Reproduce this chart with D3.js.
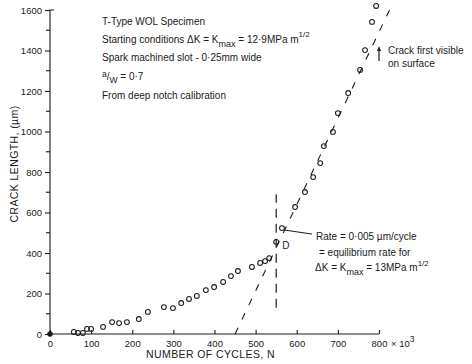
<!DOCTYPE html>
<html><head><meta charset="utf-8">
<script src="https://cdn.jsdelivr.net/npm/d3@7"></script>
<style>
body{margin:0;background:#fff}
svg{display:block}
text{font-family:"Liberation Sans",Arial,sans-serif;fill:#1a1a1a}
</style>
</head><body>
<svg id="c" width="472" height="364"></svg>
<script>
// ---- data ----
const cycles = [0, 58, 68, 80, 90, 100, 129, 151, 168, 187, 216, 238, 277, 299, 319, 338, 357, 379, 399, 421, 440, 457, 491, 511, 523, 533, 550, 564, 596, 620, 640, 657, 666, 688, 700, 725, 754, 766, 783, 793];
const crackLength = [0, 10, 5, 5, 25, 25, 35, 59, 54, 59, 74, 109, 133, 128, 153, 173, 188, 217, 232, 257, 286, 311, 331, 351, 360, 375, 455, 523, 627, 701, 775, 844, 928, 998, 1091, 1190, 1304, 1402, 1541, 1620];
const fitCycles = [450, 835];
const fitCrack = [0, 1640];
const limitCycles = [550, 550];
const limitCrack = [130, 690];
const xTicks = [0, 100, 200, 300, 400, 500, 600, 700, 800];
const yTicks = [0, 200, 400, 600, 800, 1000, 1200, 1400, 1600];
const yMinorTicks = [100, 300, 500, 700, 900, 1100, 1300, 1500];
const xTitle = "NUMBER OF CYCLES, N";
const yTitle = "CRACK LENGTH, (µm)";
const dPointIndex = 26;
const ratePointIndex = 27;
const visiblePointIndex = 37;

const svg = d3.select("#c");
const x = d3.scaleLinear().domain([0, 800]).range([50, 379]);
const y = d3.scaleLinear().domain([0, 1600]).range([334, 10]);
const ink = "#1a1a1a";
const fmt = d3.format("d");

// axes
const xAxis = d3.axisBottom(x).tickValues(xTicks).tickSize(-4).tickPadding(6).tickFormat(fmt);
const gx = svg.append("g").attr("transform", `translate(0,${y(0)})`).call(xAxis);
gx.select(".domain").attr("d", `M${x(0)},0H${x(800)}`).attr("stroke", ink).attr("stroke-width", 1.1);
gx.selectAll(".tick line").attr("stroke", ink).attr("stroke-width", 1.1);
gx.selectAll(".tick text").attr("font-size", 9.5).attr("fill", ink).attr("font-family", "Liberation Sans, Arial, sans-serif");

const yAxis = d3.axisLeft(y).tickValues(yTicks).tickSize(5).tickPadding(3).tickFormat(fmt);
const gy = svg.append("g").attr("transform", `translate(${x(0)},0)`).call(yAxis);
gy.select(".domain").attr("d", `M0,${y(0)}V${y(1600)}H4`).attr("stroke", ink).attr("stroke-width", 1.1).attr("fill", "none");
gy.selectAll(".tick line").attr("stroke", ink).attr("stroke-width", 1.1);
gy.selectAll(".tick text").attr("font-size", 9.5).attr("fill", ink).attr("font-family", "Liberation Sans, Arial, sans-serif");
gy.selectAll(".minor").data(yMinorTicks).enter().append("line")
  .attr("x1", -4).attr("x2", 0).attr("y1", d => y(d)).attr("y2", d => y(d))
  .attr("stroke", ink).attr("stroke-width", 1.1);

// x10^3
const mult = svg.append("text").attr("x", x(800) + 12).attr("y", y(0) + 13).attr("font-size", 9.5);
mult.append("tspan").text("× 10");
mult.append("tspan").attr("dy", -5).attr("font-size", 8.5).text("3");

// titles
svg.append("text").attr("x", (x(0) + x(800)) / 2 - 4).attr("y", 358).attr("text-anchor", "middle")
  .attr("font-size", 10.5).attr("letter-spacing", 0.4).text(xTitle);
svg.append("text").attr("transform", `translate(18,${(y(0)+y(1600))/2 - 8}) rotate(-90)`).attr("text-anchor", "middle")
  .attr("font-size", 10.5).attr("letter-spacing", 0.4).text(yTitle);

// dashed lines
const line = d3.line().x(d => x(d[0])).y(d => y(d[1]));
svg.append("path").datum(d3.zip(fitCycles, fitCrack)).attr("d", line)
  .attr("fill", "none").attr("stroke", ink).attr("stroke-width", 1.1).attr("stroke-dasharray", "7,9");
svg.append("path").datum(d3.zip(limitCycles, limitCrack)).attr("d", line)
  .attr("fill", "none").attr("stroke", ink).attr("stroke-width", 1.2).attr("stroke-dasharray", "9,6");

// points
const pts = d3.zip(cycles, crackLength);
svg.selectAll("circle.pt").data(pts).enter().append("circle")
  .attr("class", "pt").attr("cx", d => x(d[0])).attr("cy", d => y(d[1]))
  .attr("r", (d, i) => i === 0 ? 2.2 : 2.4)
  .attr("fill", (d, i) => i === 0 ? ink : "none")
  .attr("stroke", ink).attr("stroke-width", 1.05);

// D label
svg.append("text").attr("x", x(cycles[dPointIndex]) + 6).attr("y", y(crackLength[dPointIndex]) + 7).attr("font-size", 10).text("D");

// Rate annotation
const rp = [x(cycles[ratePointIndex]), y(crackLength[ratePointIndex])];
svg.append("path").attr("d", `M${rp[0]+3},${rp[1]+2}L${rp[0]+30},${rp[1]+6}`).attr("stroke", ink).attr("stroke-width", 1);
const rateLines = ["Rate = 0·005 µm/cycle", "= equilibrium rate for"];
svg.append("text").attr("x", 316).attr("y", 240).attr("font-size", 10).text(rateLines[0]);
svg.append("text").attr("x", 319).attr("y", 256).attr("font-size", 10).text(rateLines[1]);
const dk2 = svg.append("text").attr("x", 315).attr("y", 271).attr("font-size", 10);
dk2.append("tspan").text("ΔK = K");
dk2.append("tspan").attr("dy", 4).attr("font-size", 9).text("max");
dk2.append("tspan").attr("dy", -4).text(" = 13MPa m");
dk2.append("tspan").attr("dy", -5).attr("font-size", 8).text("1/2");

// Crack first visible annotation
const vp = [x(cycles[visiblePointIndex]), y(crackLength[visiblePointIndex])];
svg.append("path").attr("d", `M${vp[0]+14},${vp[1]+11}V${vp[1]-1}`).attr("stroke", ink).attr("stroke-width", 1.2);
svg.append("path").attr("d", `M${vp[0]+14},${vp[1]-4}l-2,5h4z`).attr("fill", ink);
svg.append("text").attr("x", 388).attr("y", 54).attr("font-size", 10).text("Crack first visible");
svg.append("text").attr("x", 388).attr("y", 67).attr("font-size", 10).text("on surface");

// Top-left annotations
const tx = 102;
svg.append("text").attr("x", tx).attr("y", 25).attr("font-size", 10).text("T-Type WOL Specimen");
const l2 = svg.append("text").attr("x", tx).attr("y", 43).attr("font-size", 10);
l2.append("tspan").text("Starting conditions ΔK = K");
l2.append("tspan").attr("dy", 4).attr("font-size", 9).text("max");
l2.append("tspan").attr("dy", -4).text(" = 12·9MPa m");
l2.append("tspan").attr("dy", -6).attr("font-size", 8).text("1/2");
svg.append("text").attr("x", tx).attr("y", 61).attr("font-size", 10).text("Spark machined slot - 0·25mm wide");
const l4 = svg.append("text").attr("x", tx).attr("y", 80).attr("font-size", 10);
l4.append("tspan").attr("dy", -3).attr("font-size", 8.5).text("a");
l4.append("tspan").attr("dy", 3).text("/");
l4.append("tspan").attr("dy", 3).attr("font-size", 8.5).text("W");
l4.append("tspan").attr("dy", -3).text(" = 0·7");
svg.append("text").attr("x", tx).attr("y", 99).attr("font-size", 10).text("From deep notch calibration");
</script>
</body></html>
